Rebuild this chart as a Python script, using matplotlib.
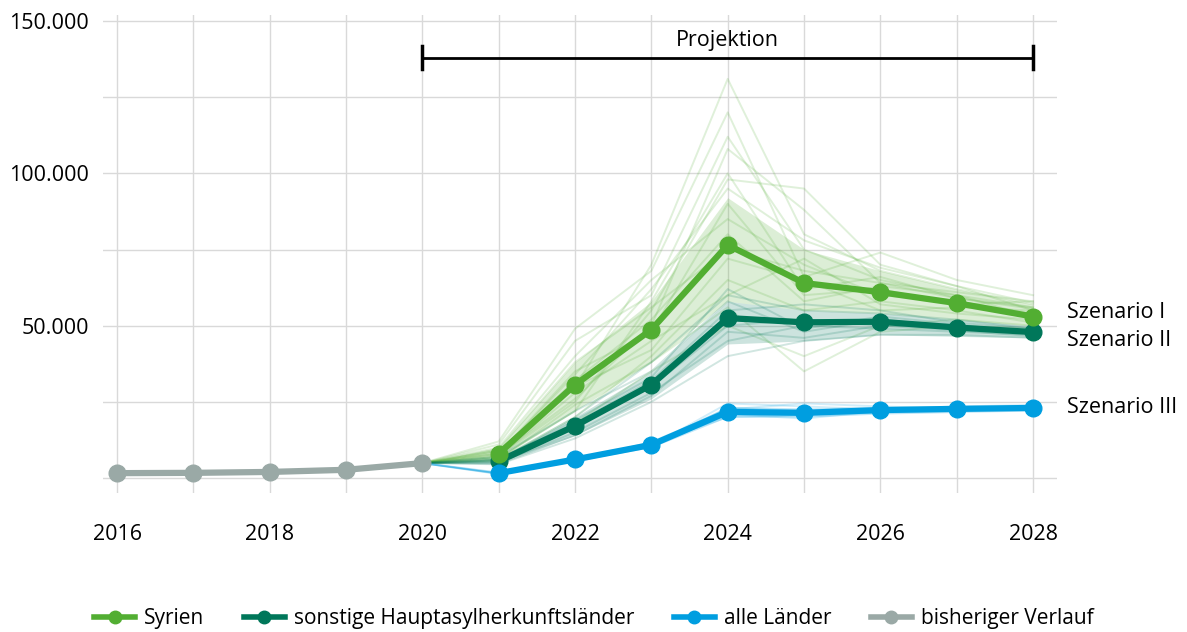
import numpy as np
import matplotlib.pyplot as plt
from matplotlib.lines import Line2D

plt.rcParams['font.family'] = ['Open Sans', 'DejaVu Sans']

# --- data ---------------------------------------------------------------
hist_years = [2016, 2017, 2018, 2019, 2020]
hist_vals = [1600, 1700, 2000, 2700, 4900]

proj_years = [2021, 2022, 2023, 2024, 2025, 2026, 2027, 2028]
syrien = [8000, 30600, 48700, 76500, 64000, 61000, 57400, 53000]
sonstige = [5500, 17100, 30600, 52500, 51100, 51300, 49400, 47900]
alle = [1600, 6100, 10900, 21700, 21400, 22300, 22700, 23000]

# simulation runs (2020..2028)
run_years = [2020, 2021, 2022, 2023, 2024, 2025, 2026, 2027, 2028]
syrien_runs = [
    [4900, 9000, 30000, 70000, 131000, 80000, 68000, 62000, 57000],
    [4900, 11000, 45000, 60000, 112000, 75000, 65000, 60000, 56000],
    [4900, 7000, 25000, 55000, 98000, 95000, 70000, 63000, 55000],
    [4900, 8000, 35000, 48000, 90000, 60000, 62000, 57000, 58000],
    [4900, 6000, 20000, 40000, 65000, 55000, 58000, 55000, 51000],
    [4900, 10000, 40000, 65000, 85000, 70000, 60000, 58000, 54000],
    [4900, 7000, 28000, 45000, 60000, 72000, 57000, 54000, 52000],
    [4900, 8500, 32000, 52000, 80000, 58000, 63000, 60000, 53000],
    [4900, 5500, 18000, 35000, 50000, 40000, 50000, 52000, 50000],
    [4900, 12000, 49000, 68000, 120000, 66000, 74000, 65000, 60000],
    [4900, 9000, 30000, 42000, 72000, 65000, 55000, 56000, 55000],
    [4900, 6500, 22000, 58000, 100000, 62000, 66000, 59000, 56000],
    [4900, 7500, 26000, 50000, 108000, 88000, 64000, 61000, 58000],
    [4900, 6000, 24000, 38000, 56000, 35000, 48000, 50000, 49000],
    [4900, 8000, 34000, 62000, 95000, 78000, 69000, 63000, 57500],
    [4900, 9500, 38000, 56000, 75000, 68000, 64000, 59000, 55500],
]
sonstige_runs = [
    [4900, 6000, 20000, 38000, 60000, 55000, 54000, 52000, 49000],
    [4900, 5000, 15000, 28000, 45000, 50000, 49000, 48000, 47000],
    [4900, 7000, 22000, 35000, 58000, 48000, 52000, 50000, 48000],
    [4900, 4500, 13000, 25000, 40000, 45000, 47000, 47000, 46000],
    [4900, 6500, 18000, 32000, 55000, 57000, 55000, 51000, 49000],
    [4900, 5500, 17000, 30000, 50000, 52000, 50000, 49500, 48000],
    [4900, 5800, 19000, 33000, 62000, 49000, 53000, 50500, 47500],
    [4900, 5200, 14000, 27000, 48000, 46000, 50000, 48500, 46500],
]
alle_runs = [
    [4900, 1500, 6000, 11000, 23000, 22000, 23000, 23000, 23500],
    [4900, 1800, 6500, 11500, 20000, 20500, 21500, 22000, 22500],
    [4900, 1300, 5500, 10500, 24500, 23500, 22500, 23500, 24000],
    [4900, 1700, 6200, 10200, 21000, 19500, 22000, 22500, 22500],
    [4900, 1400, 5800, 11800, 22500, 24500, 23500, 22800, 23000],
]
# dense core of the runs (lower / upper edge)
syrien_lo = [4900, 6500, 22000, 38000, 58000, 55000, 54000, 52000, 50000]
syrien_hi = [4900, 10000, 38000, 58000, 92000, 75000, 68000, 62000, 57000]
sonstige_lo = [4900, 4500, 14000, 26000, 44000, 45000, 47000, 46500, 46000]
sonstige_hi = [4900, 6500, 20000, 35000, 58000, 55000, 54000, 52000, 50000]
alle_lo = [4900, 1300, 5500, 10000, 20000, 20000, 21000, 21500, 22000]
alle_hi = [4900, 2000, 6700, 11800, 23500, 23000, 23500, 23500, 24000]

c_syr = '#52ae32'
c_son = '#00775a'
c_all = '#009ee0'
c_his = '#9aa9a6'

fig = plt.figure(figsize=(11.87, 6.32), dpi=100)
ax = fig.add_axes([0.0868, 0.2199, 0.8037, 0.7564])

# runs
for runs, lo, hi, c, a in [(syrien_runs, syrien_lo, syrien_hi, c_syr, 0.2),
                           (sonstige_runs, sonstige_lo, sonstige_hi, c_son, 0.2),
                           (alle_runs, alle_lo, alle_hi, c_all, 0.25)]:
    ax.fill_between(run_years, lo, hi, color=c, alpha=a, lw=0, zorder=2)
    for r in runs:
        ax.plot(run_years, r, color=c, alpha=0.18, lw=1.4, zorder=2)

# main lines
kw = dict(lw=4.5, marker='o', markersize=12, solid_capstyle='round', zorder=4)
ax.plot(proj_years, sonstige, color=c_son, **kw)
ax.plot(proj_years, syrien, color=c_syr, **kw)
ax.plot(proj_years, alle, color=c_all, **kw)
ax.plot(hist_years, hist_vals, color=c_his, **kw)

# projection bracket
ax.plot([2020, 2028], [137900, 137900], color='black', lw=2, zorder=5)
ax.plot([2020, 2020], [134100, 141800], color='black', lw=2.5, zorder=5)
ax.plot([2028, 2028], [134100, 141800], color='black', lw=2.5, zorder=5)
ax.text(2024, 140000, 'Projektion', ha='center', va='bottom', fontsize=15.5)

# scenario labels
ax.text(2028.45, 54200, 'Szenario I', va='center', fontsize=15.5, clip_on=False)
ax.text(2028.45, 45300, 'Szenario II', va='center', fontsize=15.5, clip_on=False)
ax.text(2028.45, 23300, 'Szenario III', va='center', fontsize=15.5, clip_on=False)

ax.set_xlim(2015.817, 2028.314)
ax.set_ylim(-4920, 151970)
ax.set_xticks(range(2016, 2029))
ax.set_xticklabels([str(y) if y % 2 == 0 else '' for y in range(2016, 2029)])
ax.set_yticks(range(0, 150001, 25000))
ax.set_yticklabels(['' if (v == 0 or v % 50000) else f'{v:,}'.replace(',', '.')
                    for v in range(0, 150001, 25000)])
ax.tick_params(length=0, labelsize=15.5)
ax.tick_params(axis='x', pad=22)
ax.tick_params(axis='y', pad=10)
ax.grid(True, color='#d9d9d9', lw=1)
ax.set_axisbelow(True)
for s in ax.spines.values():
    s.set_visible(False)

handles = [Line2D([], [], color=c, lw=4, marker='o', markersize=9)
           for c in (c_syr, c_son, c_all, c_his)]
labels = ['Syrien', 'sonstige Hauptasylherkunftsländer', 'alle Länder', 'bisheriger Verlauf']
fig.legend(handles, labels, loc='lower center', bbox_to_anchor=(0.5, -0.025), ncol=4,
           frameon=False, fontsize=15, handlelength=2.0, handletextpad=0.4,
           columnspacing=1.9)

fig.savefig('out.png', dpi=100)
